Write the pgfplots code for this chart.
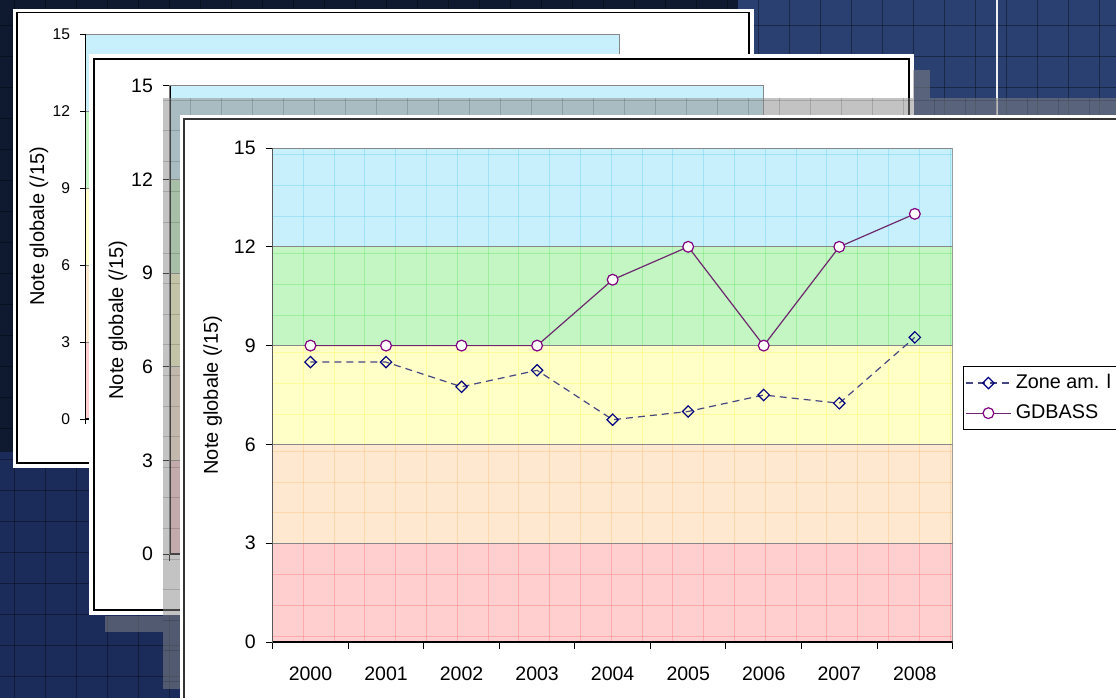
\documentclass[border=0pt]{standalone}
\usepackage{pgfplots}
\pgfplotsset{compat=1.18}
\usepackage{fontspec}
\setmainfont{Liberation Sans}
\definecolor{bgdark}{RGB}{15,25,48}
\definecolor{bgblue}{RGB}{42,64,112}
\definecolor{bgblue2}{RGB}{28,44,90}
\definecolor{bcyan}{RGB}{200,240,252}
\definecolor{bgreen}{RGB}{196,246,196}
\definecolor{byellow}{RGB}{255,255,200}
\definecolor{borange}{RGB}{255,232,208}
\definecolor{bred}{RGB}{255,206,206}
\definecolor{lcyan}{RGB}{100,208,246}
\definecolor{lgreen}{RGB}{100,226,100}
\definecolor{lyellow}{RGB}{255,246,90}
\definecolor{lorange}{RGB}{255,190,120}
\definecolor{lred}{RGB}{255,120,120}
\definecolor{zonec}{RGB}{0,0,128}
\definecolor{zoneline}{RGB}{70,70,130}
\definecolor{gdc}{RGB}{128,0,128}
\definecolor{gdline}{RGB}{110,40,110}
\definecolor{bandline}{RGB}{135,135,135}
\definecolor{greyl}{RGB}{137,137,137}

\newcommand\bands{%
  \fill[bred] (axis cs:-0.5,0) rectangle (axis cs:8.5,3);
  \fill[borange] (axis cs:-0.5,3) rectangle (axis cs:8.5,6);
  \fill[byellow] (axis cs:-0.5,6) rectangle (axis cs:8.5,9);
  \fill[bgreen] (axis cs:-0.5,9) rectangle (axis cs:8.5,12);
  \fill[bcyan] (axis cs:-0.5,12) rectangle (axis cs:8.5,15);
}
\newcommand\bandlines{%
  \draw[bandline,line width=0.5pt] (axis cs:-0.5,3) -- (axis cs:8.5,3);
  \draw[bandline,line width=0.5pt] (axis cs:-0.5,6) -- (axis cs:8.5,6);
  \draw[bandline,line width=0.5pt] (axis cs:-0.5,9) -- (axis cs:8.5,9);
  \draw[bandline,line width=0.5pt] (axis cs:-0.5,12) -- (axis cs:8.5,12);
  \draw[bandline,line width=0.5pt] (rel axis cs:0,1) -- (rel axis cs:1,1) -- (rel axis cs:1,0);
  \draw[black,line width=0.6pt] (rel axis cs:0,1) -- (rel axis cs:0,0) -- (rel axis cs:1,0);
}
\newcommand\texture{%
  \pgfplotsinvokeforeach{0,...,21}{
    \draw[lred,opacity=.4,line width=.5pt] (axis cs:{-0.095+0.4077*##1},0) -- (axis cs:{-0.095+0.4077*##1},3);
    \draw[lorange,opacity=.4,line width=.5pt] (axis cs:{-0.095+0.4077*##1},3) -- (axis cs:{-0.095+0.4077*##1},6);
    \draw[lyellow,opacity=.4,line width=.5pt] (axis cs:{-0.095+0.4077*##1},6) -- (axis cs:{-0.095+0.4077*##1},9);
    \draw[lgreen,opacity=.4,line width=.5pt] (axis cs:{-0.095+0.4077*##1},9) -- (axis cs:{-0.095+0.4077*##1},12);
    \draw[lcyan,opacity=.4,line width=.5pt] (axis cs:{-0.095+0.4077*##1},12) -- (axis cs:{-0.095+0.4077*##1},15);
  }
  \pgfplotsinvokeforeach{0.92,1.855,2.79}{
    \draw[lred,opacity=.4,line width=.5pt] (axis cs:-0.5,{##1-0.74}) -- (axis cs:8.5,{##1-0.74});
    \draw[lorange,opacity=.4,line width=.5pt] (axis cs:-0.5,{##1+3}) -- (axis cs:8.5,{##1+3});
    \draw[lyellow,opacity=.4,line width=.5pt] (axis cs:-0.5,{##1+6}) -- (axis cs:8.5,{##1+6});
    \draw[lgreen,opacity=.4,line width=.5pt] (axis cs:-0.5,{##1+9}) -- (axis cs:8.5,{##1+9});
    \draw[lcyan,opacity=.4,line width=.5pt] (axis cs:-0.5,{##1+12}) -- (axis cs:8.5,{##1+12});
  }
}

\pgfplotsset{
  /pgf/number format/assume math mode=true,
  cardaxis/.style={
    anchor=south west, scale only axis,
    xmin=-0.5, xmax=8.5, ymin=0, ymax=15,
    ytick={0,3,...,15},
    tick align=outside, tick pos=left,
    tick style={black,line width=0.5pt},
    axis line style={draw=bandline,line width=0.5pt},
    ylabel={Note globale (/15)},
  },
}

\begin{document}
\begin{tikzpicture}
\useasboundingbox (0,0) rectangle (558pt,349pt);
\clip (0,0) rectangle (558pt,349pt);

\begin{scope}[shift={(0pt,349pt)},x=0.5pt,y=-0.5pt]
  \fill[bgblue] (0,0) rectangle (1116,698);
  \fill[bgblue2] (0,452) rectangle (200,698);
  \fill[bgdark] (0,0) rectangle (738,452);
  \foreach \i in {0,...,36} \draw[black,opacity=.35,line width=0.5pt] ({14+31*\i},0) -- ({14+31*\i},698);
  \foreach \j in {0,...,22} \draw[black,opacity=.35,line width=0.5pt] (0,{25.7+31*\j}) -- (1116,{25.7+31*\j});
  \draw[white!88!gray,line width=1pt] (996.7,0) -- (996.7,120);
  % card 1
  \fill[white] (13,9) rectangle (754,468);
  \draw[black,line width=0.75pt] (17,12.7) rectangle (749,463);
\end{scope}

% card 1 axis
\begin{axis}[cardaxis,
  at={(42.5pt,139.5pt)}, width=267.5pt, height=192.5pt,
  xtick={-0.5,0.5,...,8.5}, xticklabels={},
  major tick length=2.5pt,
  tick label style={font=\fontsize{7.8}{9}\selectfont},
  label style={font=\fontsize{7.8}{9}\selectfont},
  every axis y label/.style={at={(axis description cs:-0.0860,0.5)},rotate=90,anchor=center},
  yticklabel style={xshift=-1.5pt},
]
\bands
\bandlines
\end{axis}

\begin{scope}[shift={(0pt,349pt)},x=0.5pt,y=-0.5pt]
  \fill[white] (89,54) rectangle (914,615);
  \draw[black,line width=0.75pt] (94,59) rectangle (909,610);
\end{scope}

% card 2 axis
\begin{axis}[cardaxis,
  at={(85pt,72pt)}, width=297pt, height=234pt,
  xtick={-0.5,0.5,...,8.5}, xticklabels={},
  major tick length=3.5pt,
  tick label style={font=\fontsize{9.75}{11.7}\selectfont},
  label style={font=\fontsize{9.75}{11.7}\selectfont},
  every axis y label/.style={at={(axis description cs:-0.0875,0.5)},rotate=90,anchor=center},
  yticklabel style={xshift=-1.5pt},
]
\bands
\bandlines
\end{axis}

\begin{scope}[shift={(0pt,349pt)},x=0.5pt,y=-0.5pt]
  \fill[greyl,opacity=.5] (163,98) rectangle (1116,689);
  \fill[greyl,opacity=.5] (105,616) rectangle (163,632);
  \fill[greyl,opacity=.5] (913,70) rectangle (930,98);
  \begin{scope}
    \clip (163,98) rectangle (1116,689);
    \foreach \i in {5,...,36} \draw[black,opacity=.15,line width=0.5pt] ({4+31*\i},98) -- ({4+31*\i},689);
    \foreach \j in {0,...,19} \draw[black,opacity=.15,line width=0.5pt] (163,{100.1+30.6*\j}) -- (1116,{100.1+30.6*\j});
  \end{scope}
  % main card
  \fill[white] (180,115) rectangle (1116,698);
  \draw[black!80,line width=1pt] (184,698) -- (184,119.5) -- (1116,119.5);
\end{scope}

% main axis
\begin{axis}[cardaxis,
  at={(136.35pt,28pt)}, width=339.95pt, height=247pt,
  xtick={-0.5,0.5,...,8.5}, x tick label as interval,
  xticklabels={2000,2001,2002,2003,2004,2005,2006,2007,2008},
  major tick length=3.5pt,
  tick label style={font=\fontsize{9.75}{11.7}\selectfont},
  label style={font=\fontsize{9.75}{11.7}\selectfont},
  every axis y label/.style={at={(axis description cs:-0.0883,0.5)},rotate=90,anchor=center},
  yticklabel style={xshift=-1.5pt},
  xticklabel style={yshift=-5.5pt},
  legend style={at={(1.0148,0.5587)}, anchor=north west, draw=black, fill=white,
    font=\fontsize{9.9}{11.7}\selectfont, row sep=2.5pt, inner xsep=1pt, inner ysep=2pt,
    cells={anchor=west}},
  legend cell align=left,
  legend image code/.code={\draw[mark repeat=2,mark phase=2] plot coordinates {(0cm,0cm) (0.4cm,0cm) (0.8cm,0cm)};},
]
\bands
\texture
\bandlines
\addplot[zoneline, line width=0.6pt, dash pattern=on 3.5pt off 2.5pt,
  mark=square, mark size=2pt, mark options={rotate=45,solid,fill=white,draw=zonec,line width=0.6pt}]
  coordinates {(0,8.5) (1,8.5) (2,7.75) (3,8.25) (4,6.75) (5,7) (6,7.5) (7,7.25) (8,9.25)};
\addlegendentry{\makebox[70pt][l]{Zone am. l}}
\addplot[gdline, line width=0.6pt,
  mark=*, mark size=2.7pt, mark options={fill=white,draw=gdc,line width=0.6pt}]
  coordinates {(0,9) (1,9) (2,9) (3,9) (4,11) (5,12) (6,9) (7,12) (8,13)};
\addlegendentry{GDBASS}
\end{axis}
\end{tikzpicture}
\end{document}
